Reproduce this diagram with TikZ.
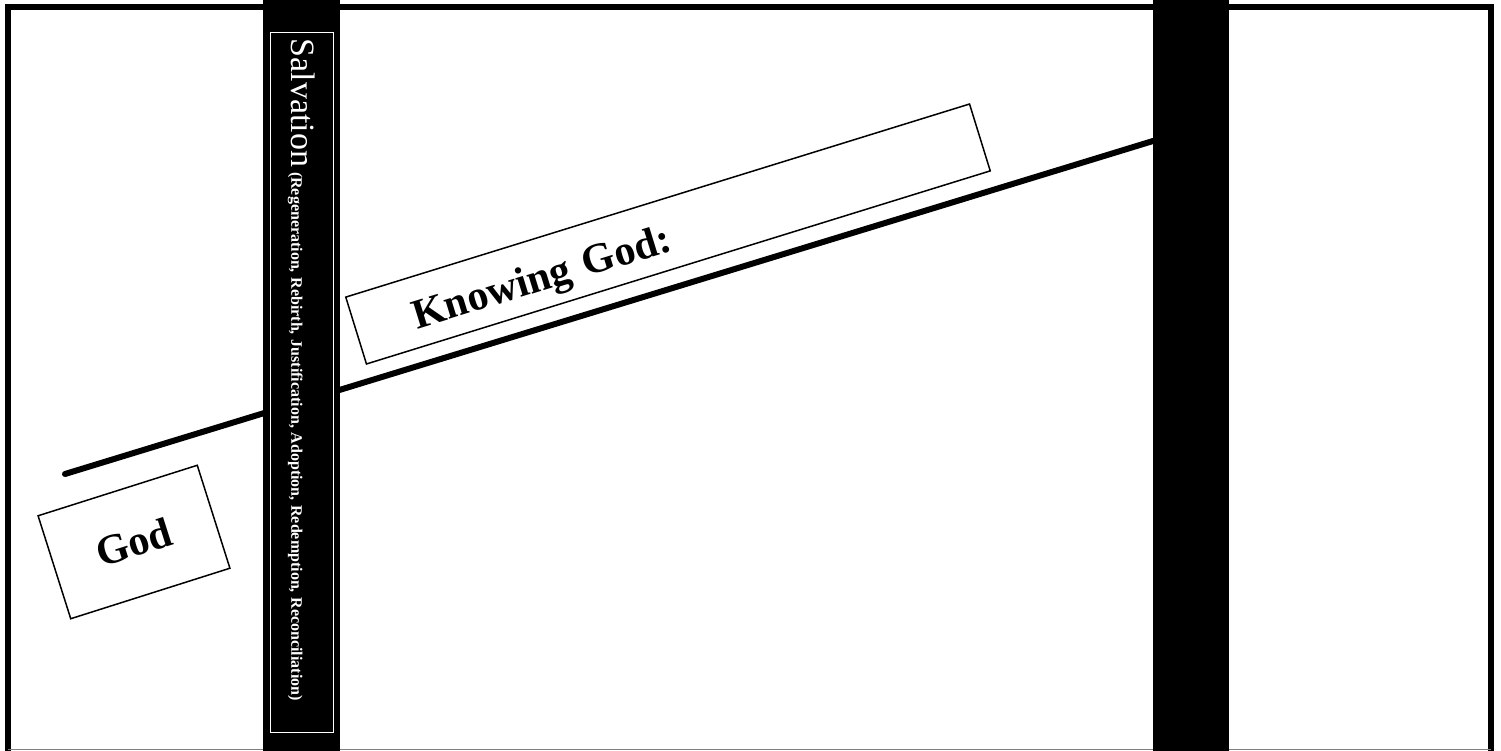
\documentclass[tikz,border=0pt]{standalone}
\usepackage{fontspec}
\setmainfont{Liberation Serif}
\usepackage{tikz}
\usetikzlibrary{positioning}

\begin{document}
\begin{tikzpicture}[
x=1pt,
y=-1pt,
every node/.style={font=\fontsize{14}{16}\selectfont},
slidebox/.style={draw,line width=1.5pt,fill=white,inner sep=0pt},
slopeline/.style={line width=6pt,line cap=round},
pillar/.style={fill=black},
pillartext/.style={draw=white,line width=1pt,text=white,rotate=-90,align=left,inner xsep=6pt,inner ysep=0pt,text width=687pt,minimum height=63pt}
]
\useasboundingbox (0,0) rectangle (1501,751);
% frame of the slide
\draw[line width=6pt] (8,751) -- (8,7) -- (1491,7) -- (1491,751);
\draw[gray,line width=1pt] (8,749.5) -- (1491,749.5);

% the rising line
\coordinate (slopeL) at (65,474);
\coordinate (slopeR) at (1153,141);
\draw[slopeline] (slopeL) -- (slopeR);

% black pillars
\fill[pillar] (263,0) rectangle (340,751);
\fill[pillar] (1153,0) rectangle (1229,751);

\node[pillartext] (salv) at (301.5,382.5) {\fontsize{34}{36}\selectfont Salvation \fontsize{16}{18}\selectfont\bfseries (Regeneration, Rebirth, Justification, Adoption, Redemption, Reconciliation)};

\node[slidebox,rotate=17.6,minimum width=167pt,minimum height=108pt,font=\fontsize{42}{44}\selectfont\bfseries] (god) at (134,542) {God};
\node[slidebox,rotate=17.2,minimum width=653pt,minimum height=70pt,text width=535pt,inner xsep=59pt,align=left,font=\fontsize{42}{44}\selectfont\bfseries] (knowing) at (668,234) {\smash{\raisebox{-17pt}{Knowing God:}}};
\end{tikzpicture}
\end{document}
